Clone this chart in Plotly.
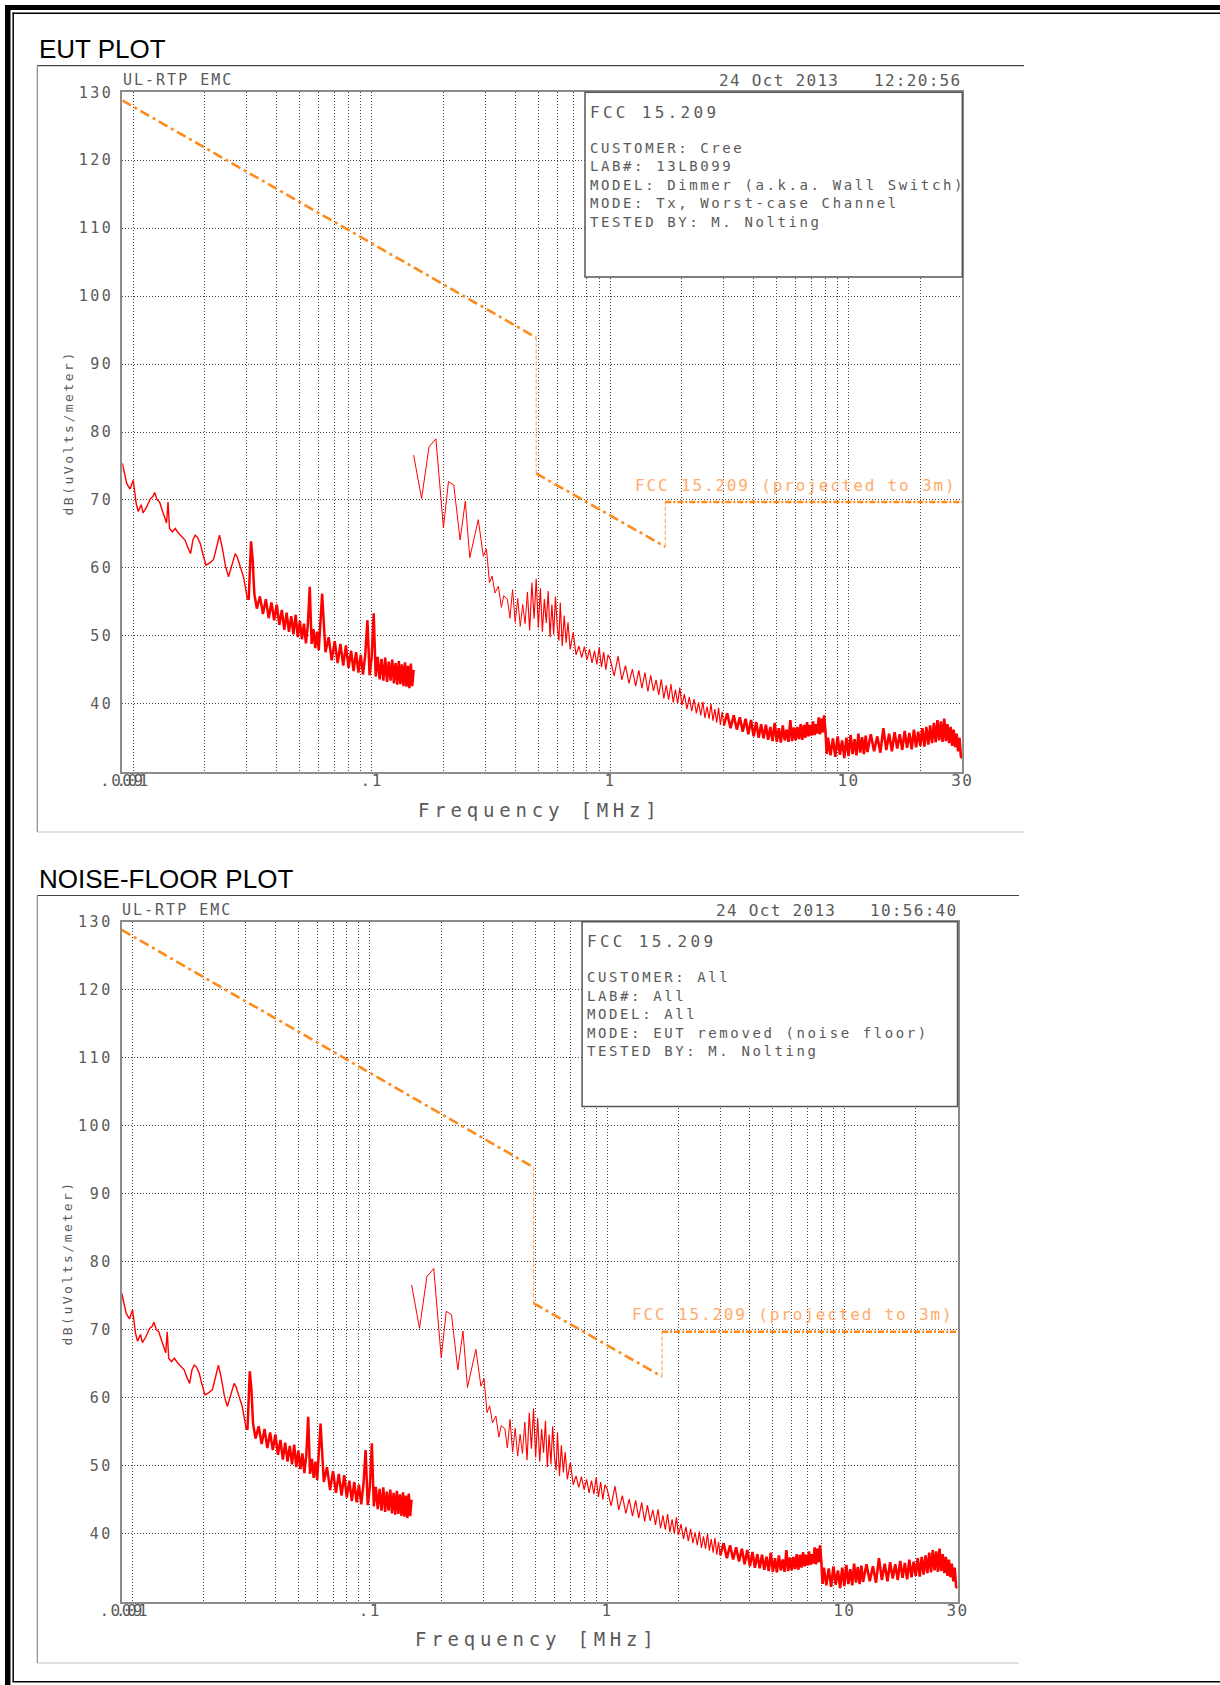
import math
import plotly.graph_objects as go

W, H = 1220, 1685
MONO = "DejaVu Sans Mono"
SANS = "Liberation Sans, Arial, sans-serif"
TXT = "#5a5a5a"
ORANGE = "#ff8a1c"
ORANGE_LT = "#ffac6a"
RED = "#ff0000"

# FCC 15.209 limit projected to 3 m  (MHz / dBuV/m)
lim_f = [0.009, 0.49, 0.49, 1.705, 1.705, 30]
lim_db = [128.8, 93.9, 73.9, 63.1, 69.7, 69.7]

# --- measured trace, 9 - 150 kHz sweep
seg1_khz = [9.0, 9.4, 9.7, 10.0, 10.3, 10.5, 10.8, 11.0, 11.4, 11.8,
            12.1, 12.3, 12.6, 12.9, 13.2, 13.5, 13.8, 14.0, 14.2, 14.6,
            15.0, 15.5, 16.0, 16.5, 16.9, 17.4, 17.8, 18.2, 18.6, 19.1,
            19.6, 20.2, 20.9, 21.7, 22.4, 23.0, 23.6, 24.4, 25.1, 25.9,
            26.8, 27.3, 28.1, 29.0, 30.0, 30.5, 31.2, 31.7, 32.2,
            33, 34, 35, 36, 37, 38, 39, 40, 41, 42,
            43, 44, 45, 46, 47, 48, 49, 50, 51, 52,
            53, 54, 55, 56, 57, 58, 59, 60,
            62, 64, 66, 68, 70, 72, 74, 76, 78, 80,
            82, 84, 86, 88, 90, 92, 94, 96, 98, 100,
            102, 104, 106, 108, 110, 112, 114, 116, 118, 120,
            122, 124, 126, 128, 130, 132, 134, 136, 138, 140,
            142, 144, 146, 148, 150]
seg1_db = [75.4, 72.4, 71.6, 72.9, 69.4, 68.3, 69.3, 68.1, 69.0, 70.2,
           70.5, 71.1, 70.0, 69.7, 68.6, 67.5, 66.6, 69.7, 65.8, 65.3,
           65.8, 65.1, 64.6, 64.1, 63.1, 62.1, 64.1, 64.8, 64.5, 63.6,
           62.0, 60.4, 60.7, 61.2, 63.1, 64.8, 63.1, 60.2, 58.7, 60.2,
           62.1, 61.6, 60.2, 58.7, 55.8, 55.3, 63.9, 61.2, 56.2,
           54.0, 55.8, 53.2, 55.4, 52.6, 54.9, 52.3, 54.6, 51.6, 53.8,
           50.9, 53.4, 50.6, 52.9, 50.2, 53.1, 49.8, 52.2, 49.5, 51.8,
           48.9, 51.6, 57.2, 48.8, 51.0, 48.2, 50.6, 47.9,
           56.2, 47.6, 49.8, 46.4, 49.2, 46.0, 48.8, 45.6, 48.6, 45.3,
           47.8, 44.8, 47.6, 44.6, 47.2, 44.3, 47.2, 52.3, 44.2, 46.8,
           53.3, 44.0, 46.9, 43.6, 46.6, 43.4, 46.8, 43.2, 46.2, 43.4,
           46.5, 43.0, 46.0, 42.8, 46.3, 42.9, 45.8, 42.6, 46.1, 42.5,
           45.6, 42.3, 45.9, 42.6, 45.0]

# --- measured trace, 0.15 - 30 MHz sweep
seg2_f = [0.150, 0.162, 0.174, 0.186, 0.200, 0.210, 0.221, 0.235, 0.247, 0.258,
          0.280, 0.294, 0.303, 0.312, 0.320, 0.329, 0.340, 0.350, 0.358, 0.371,
          0.380, 0.390, 0.400, 0.410, 0.420, 0.430, 0.440, 0.450, 0.460, 0.470,
          0.480, 0.490, 0.500, 0.510, 0.520, 0.530, 0.540, 0.550, 0.560, 0.570,
          0.580, 0.590, 0.600, 0.610, 0.618, 0.630, 0.642, 0.654, 0.666, 0.680,
          0.700, 0.720, 0.740, 0.760, 0.780, 0.800, 0.820, 0.840, 0.860, 0.880,
          0.900, 0.920, 0.940, 0.960, 0.980,
          1.00, 1.04, 1.08, 1.12, 1.16, 1.20, 1.24, 1.28, 1.32, 1.36,
          1.40, 1.44, 1.48, 1.52, 1.56, 1.60, 1.64, 1.68, 1.72, 1.76,
          1.80, 1.84, 1.88, 1.92, 1.96, 2.00,
          2.05, 2.10, 2.15, 2.20, 2.25, 2.30, 2.35, 2.40, 2.45, 2.50,
          2.55, 2.60, 2.65, 2.70, 2.75, 2.80, 2.85, 2.90, 2.95, 3.00,
          3.1, 3.2, 3.3, 3.4, 3.5, 3.6, 3.7, 3.8, 3.9, 4.0,
          4.1, 4.2, 4.3, 4.4, 4.5, 4.6, 4.7, 4.8, 4.9, 5.0,
          5.1, 5.2, 5.3, 5.4, 5.5, 5.6, 5.7, 5.8, 5.9, 6.0,
          6.1, 6.2, 6.3, 6.4, 6.5, 6.6, 6.7, 6.8, 6.9, 7.0,
          7.1, 7.2, 7.3, 7.4, 7.5, 7.6, 7.7, 7.8, 7.9, 8.0,
          8.1, 8.2, 8.4, 8.6, 8.8, 9.0, 9.2, 9.4, 9.6, 9.8,
          10.0, 10.2, 10.4, 10.6, 10.8, 11.0, 11.2, 11.4, 11.6, 11.8, 12.0,
          12.4, 12.8, 13.2, 13.6, 14.0, 14.4, 14.8, 15.2, 15.6, 16.0,
          16.4, 16.8, 17.2, 17.6, 18.0, 18.4, 18.8, 19.2, 19.6, 20.0,
          20.4, 20.8, 21.2, 21.6, 22.0, 22.4, 22.8, 23.2, 23.6, 24.0,
          24.4, 24.8, 25.2, 25.6, 26.0, 26.4, 26.8, 27.2, 27.6, 28.0,
          28.4, 28.8, 29.2, 29.6, 30.0]
seg2_db = [76.6, 70.2, 77.8, 79.0, 65.9, 72.7, 72.2, 64.1, 69.8, 61.5,
           67.1, 61.7, 62.8, 57.8, 58.8, 56.3, 57.3, 54.2, 55.9, 55.4,
           52.6, 56.8, 52.0, 55.5, 51.4, 54.6, 51.8, 56.4, 50.8, 57.8,
           52.5, 58.4, 51.2, 57.0, 50.6, 55.4, 51.9, 56.6, 49.8, 54.6,
           50.2, 55.8, 51.4, 49.3, 54.9, 48.5, 53.0, 49.0, 52.0, 48.0,
           50.5, 47.2, 48.5, 46.8, 48.4, 46.5, 48.0, 46.0, 47.8, 45.8,
           48.3, 45.4, 47.6, 45.0, 47.2,
           46.6, 44.1, 47.0, 43.5, 45.6, 43.0, 45.1, 42.6, 44.9, 42.3,
           44.6, 41.8, 44.2, 41.9, 43.5, 41.3, 43.6, 40.8, 42.7, 40.6,
           42.9, 40.2, 42.1, 40.0, 42.4, 39.8,
           41.4, 39.2, 41.0, 38.9, 40.7, 38.6, 40.2, 38.3, 40.3, 37.9,
           39.6, 37.8, 40.0, 37.5, 39.2, 37.2, 39.4, 36.9, 38.8, 36.8,
           38.6, 36.4, 38.3, 36.2, 38.0, 35.9, 37.8, 35.5, 37.6, 35.2,
           37.3, 35.0, 37.0, 34.9, 36.9, 34.7, 36.6, 34.5, 37.2, 34.4,
           36.4, 34.3, 36.8, 34.6, 36.2, 34.4, 37.6, 34.5, 36.5, 34.6,
           36.6, 34.8, 37.0, 34.7, 36.9, 35.0, 37.3, 35.2, 36.9, 35.3,
           37.4, 35.4, 37.0, 35.6, 38.0, 35.5, 37.8, 35.8, 38.3, 36.0,
           32.6, 35.0, 32.4, 34.9, 32.2, 35.2, 32.5, 34.6, 32.0, 35.0,
           32.3, 35.4, 32.6, 34.8, 32.4, 35.6, 32.8, 35.1, 32.6, 35.3, 32.9,
           35.5, 33.0, 35.2, 32.8, 36.4, 33.2, 35.6, 33.0, 35.8, 33.4,
           35.5, 33.2, 36.0, 33.5, 35.7, 33.3, 36.2, 33.6, 35.9, 33.8,
           36.4, 33.7, 36.6, 34.0, 36.8, 34.2, 37.2, 34.3, 37.6, 34.6,
           37.4, 34.4, 37.8, 34.5, 37.0, 34.2, 36.6, 33.8, 36.2, 33.6,
           35.6, 33.0, 35.0, 32.2, 32.0]

y_ticks = [40, 50, 60, 70, 80, 90, 100, 110, 120, 130]
x_tick_vals = [0.009, 0.01, 0.1, 1, 10, 30]
x_tick_text = [".009", ".01", ".1", "1", "10", "30"]
grid_f = [0.01, 0.02, 0.03, 0.04, 0.05, 0.06, 0.07, 0.08, 0.09,
          0.1, 0.2, 0.3, 0.4, 0.5, 0.6, 0.7, 0.8, 0.9,
          1, 2, 3, 4, 5, 6, 7, 8, 9, 10, 20]

assert len(seg1_khz) == len(seg1_db) and len(seg2_f) == len(seg2_db)
seg1_f = [f / 1000 for f in seg1_khz]

# line weight per part of the sweep (sparse parts thin, dense parts heavier)
trace_parts = [
    (seg1_f, seg1_db, 0.009, 0.030, 1.4),
    (seg1_f, seg1_db, 0.030, 0.150, 2.5),
    (seg2_f, seg2_db, 0.150, 0.450, 1.0),
    (seg2_f, seg2_db, 0.450, 3.000, 1.15),
    (seg2_f, seg2_db, 3.000, 30.00, 2.6),
]

plots = [
    dict(title="EUT PLOT", date="24 Oct 2013", time="12:20:56",
         info=["CUSTOMER: Cree", "LAB#: 13LB099", "MODEL: Dimmer (a.k.a. Wall Switch)",
               "MODE: Tx, Worst-case Channel", "TESTED BY: M. Nolting"],
         L=122.3, R=962.3, T=92.3, B=771.7, ftop=65.7, fbot=832, fright=1024),
    dict(title="NOISE-FLOOR PLOT", date="24 Oct 2013", time="10:56:40",
         info=["CUSTOMER: All", "LAB#: All", "MODEL: All",
               "MODE: EUT removed (noise floor)", "TESTED BY: M. Nolting"],
         L=121.7, R=957.5, T=921.7, B=1601.7, ftop=895.5, fbot=1663, fright=1019),
]

# pull x tick labels a little closer to the axis if plotly accepts it
try:
    go.layout.XAxis(ticklabelstandoff=-7)
    X_STANDOFF = -7
except ValueError:
    X_STANDOFF = 0


def px(x):
    return x / W


def py(y):
    return 1 - y / H


def ls(text, sp):
    return f'<span style="letter-spacing:{sp}px">{text}</span>'


def pline(x0, y0, x1, y1, color, width):
    return dict(type="line", xref="paper", yref="paper", x0=px(x0), x1=px(x1),
                y0=py(y0), y1=py(y1), line=dict(color=color, width=width))


def prect(x0, y0, x1, y1, fill, line_color=None, width=0):
    return dict(type="rect", xref="paper", yref="paper", x0=px(x0), x1=px(x1),
                y0=py(y0), y1=py(y1), fillcolor=fill,
                line=dict(color=line_color or fill, width=width))


fig = go.Figure()
shapes = []
annotations = []

# --- page border (double rule top / left, thin rule bottom)
shapes += [
    prect(5, 5, W, 10, "black"),
    prect(5, 5, 10.5, H, "black"),
    pline(12.5, 13.2, W, 13.2, "black", 1.5),
    pline(13.2, 12.5, 13.2, 1682, "black", 1.5),
    pline(12.5, 1681.8, W, 1681.8, "black", 1.5),
]

P1 = plots[0]
for i, P in enumerate(plots):
    n = "" if i == 0 else str(i + 1)
    xr, yr = "x" + n, "y" + n
    s = (P["R"] - P["L"]) / (P1["R"] - P1["L"])
    dy = P["T"] - P1["T"]

    def X(x):  # map plot-1 pixel x into this plot
        return P["L"] + (x - P1["L"]) * s

    def Y(y):
        return y + dy

    # --- axes
    fig.update_layout(**{
        "xaxis" + n: dict(
            type="log", domain=[px(P["L"]), px(P["R"])], anchor=yr,
            range=[math.log10(lim_f[0]), math.log10(lim_f[-1])],
            tickvals=x_tick_vals, ticktext=[ls(t, 1.5) for t in x_tick_text],
            tickangle=0, ticks="", ticklabelstandoff=X_STANDOFF,
            tickfont=dict(family=MONO, size=16, color=TXT),
            showgrid=False, zeroline=False,
            showline=True, linecolor="#8c8c8c", linewidth=2, mirror=True,
            minor=dict(tickvals=grid_f, showgrid=True, gridcolor="#444",
                       griddash="1px,2px", gridwidth=1, ticks=""),
        ),
        "yaxis" + n: dict(
            domain=[py(P["B"]), py(P["T"])], anchor=xr, range=[30, 130],
            tickvals=y_ticks, ticktext=[ls(str(v), 2.5) for v in y_ticks],
            ticks="", ticklabelstandoff=4,
            tickfont=dict(family=MONO, size=15, color=TXT),
            showgrid=True, gridcolor="#444", griddash="1px,2px", gridwidth=1,
            zeroline=False, showline=True, linecolor="#8c8c8c", linewidth=2, mirror=True,
        ),
    })

    # --- measured trace
    for fx, fy, lo, hi, w in trace_parts:
        pts = [(f, v) for f, v in zip(fx, fy) if lo <= f <= hi]
        fig.add_trace(go.Scatter(x=[p[0] for p in pts], y=[p[1] for p in pts],
                                 mode="lines", xaxis=xr, yaxis=yr,
                                 line=dict(color=RED, width=w), showlegend=False,
                                 hoverinfo="skip"))

    # --- limit line
    for a, b, dash, w, c in ((0, 2, "10px,4px,3px,4px", 2.6, ORANGE),
                             (1, 3, "4px,2px", 1.2, ORANGE_LT),
                             (2, 4, "10px,4px,3px,4px", 2.6, ORANGE),
                             (3, 5, "4px,2px", 1.2, ORANGE_LT),
                             (4, 6, "6px,2px,2px,2px", 2.6, ORANGE)):
        fig.add_trace(go.Scatter(x=lim_f[a:b], y=lim_db[a:b], mode="lines",
                                 xaxis=xr, yaxis=yr, showlegend=False, hoverinfo="skip",
                                 line=dict(color=c, width=w, dash=dash)))

    # --- image frame + info box
    shapes += [
        pline(37.3, P["ftop"], P["fright"], P["ftop"], "#444", 1.2),
        pline(37.3, P["ftop"], 37.3, P["fbot"], "#8a8a8a", 1.2),
        pline(37.3, P["fbot"], P["fright"], P["fbot"], "#c4c4c4", 1.2),
        prect(X(585), Y(277), P["R"], P["T"], "white", "#555", 1.5),
    ]

    def note(text, x, y, size, sp, xanchor="left", color=TXT, family=MONO, angle=0):
        annotations.append(dict(
            text=ls(text, sp) if sp else text, x=px(x), y=py(y), xref="paper", yref="paper",
            xanchor=xanchor, yanchor="middle", showarrow=False, borderpad=0,
            textangle=angle, font=dict(family=family, size=size, color=color)))

    note(P["title"], 38.3, Y(49.2), 26, 0, color="black", family=SANS)
    note("UL-RTP EMC", X(121.7), Y(80.5), 15, 2)
    note(P["date"], X(718.3), Y(80.8), 16, 1.3)
    note(P["time"], X(873), Y(80.8), 16, 1.3)
    note("FCC 15.209", X(589), Y(112.5), 16, 3.3)
    for k, line in enumerate(P["info"]):
        note(line, X(589), Y(147.7 + 18.5 * k), 14, 2.6)
    note("FCC 15.209 (projected to 3m)", X(634), Y(485), 16, 1.85, color=ORANGE_LT)
    note("Frequency [MHz]", X(540), Y(810), 19, 4.8, xanchor="center")
    note("dB(uVolts/meter)", X(68), Y(433.5), 13, 2.5, xanchor="center", angle=-90)

fig.update_layout(
    width=W, height=H, margin=dict(l=0, r=0, t=0, b=0, pad=0, autoexpand=False),
    paper_bgcolor="white", plot_bgcolor="white",
    showlegend=False, shapes=shapes, annotations=annotations,
)

fig.write_html("out.html", config={"displayModeBar": False},
               post_script="document.body.style.margin='0px';"
                           "document.body.style.padding='0px';"
                           "document.body.style.overflow='hidden';")
